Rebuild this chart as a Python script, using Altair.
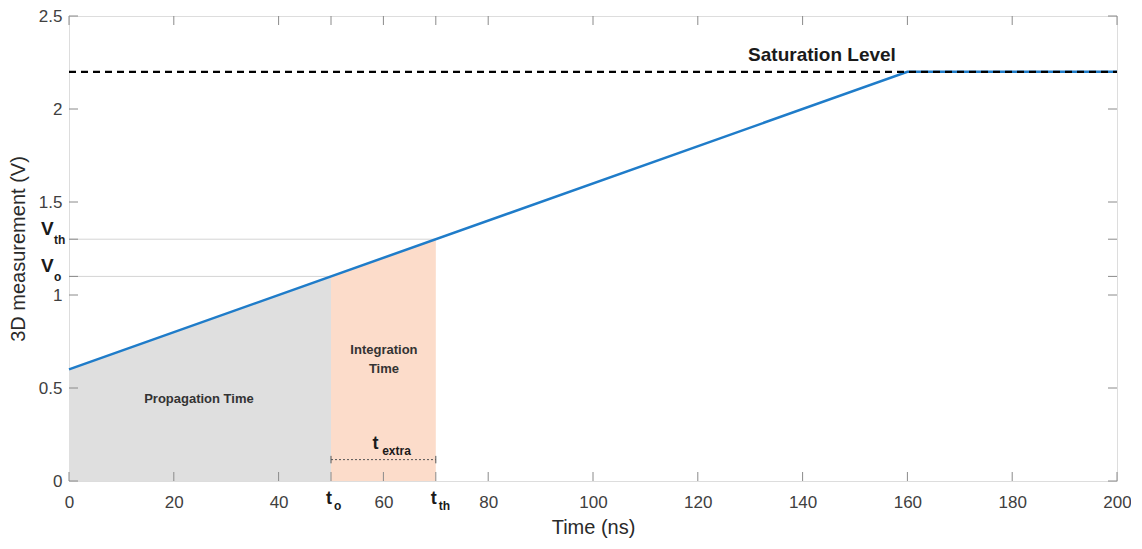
import altair as alt
import pandas as pd

# ---- data ----
line_time = [0, 160, 200]
line_volt = [0.6, 2.2, 2.2]
prop_time = [0, 50]
prop_volt = [0.6, 1.1]
integ_time = [50, 70]
integ_volt = [1.1, 1.3]
saturation = 2.2
t_o, t_th = 50, 70
v_o, v_th = 1.1, 1.3
x_tick_vals = [0, 20, 40, 50, 60, 70, 80, 100, 120, 140, 160, 180, 200]
x_label_vals = [0, 20, 40, 60, 80, 100, 120, 140, 160, 180, 200]
y_tick_vals = [0, 0.5, 1, 1.1, 1.3, 1.5, 2, 2.5]
y_label_vals = [0, 0.5, 1, 1.5, 2, 2.5]

W, H = 1048, 465
FONT = "Liberation Sans"
DARK = "#1a1a1a"

xs = alt.Scale(domain=[0, 200], nice=False, zero=False)
ys = alt.Scale(domain=[0, 2.5], nice=False)

XAXIS = alt.Axis(values=x_label_vals, format="d", tickSize=0, domain=False, grid=False,
                 labelFlush=False, labelFontSize=17, labelColor="#404040", labelPadding=13,
                 titleFontSize=20, titleFontWeight="normal", titleColor="#2a2a2a",
                 titlePadding=7, labelFont=FONT, titleFont=FONT)
YAXIS = alt.Axis(values=y_label_vals, format="~r", tickSize=0, domain=False, grid=False,
                 labelFlush=False, labelFontSize=17, labelColor="#404040", labelPadding=7,
                 titleFontSize=20, titleFontWeight="normal", titleColor="#2a2a2a",
                 titlePadding=10, labelFont=FONT, titleFont=FONT)


def X(field):
    return alt.X(field, type="quantitative", scale=xs, axis=XAXIS, title="Time (ns)")


def Y(field):
    return alt.Y(field, type="quantitative", scale=ys, axis=YAXIS, title="3D measurement (V)")


df_line = pd.DataFrame({"t": line_time, "v": line_volt})
df_prop = pd.DataFrame({"t": prop_time, "v": prop_volt})
df_integ = pd.DataFrame({"t": integ_time, "v": integ_volt})

prop_area = alt.Chart(df_prop).mark_area(color="#dfdfdf", opacity=1).encode(x=X("t"), y=Y("v"))
integ_area = alt.Chart(df_integ).mark_area(color="#fcdcca", opacity=1).encode(x=X("t"), y=Y("v"))

df_guides = pd.DataFrame({"x0": [0, 0], "x1": [t_o, t_th], "v": [v_o, v_th]})
guides = alt.Chart(df_guides).mark_rule(color="#d4d4d4", strokeWidth=1).encode(
    x=X("x0"), x2="x1:Q", y=Y("v"))

line = alt.Chart(df_line).mark_line(color="#1f7cc9", strokeWidth=2.5).encode(x=X("t"), y=Y("v"))

df_sat = pd.DataFrame({"x0": [0], "x1": [200], "v": [saturation]})
sat = alt.Chart(df_sat).mark_rule(color="black", strokeWidth=2.2, strokeDash=[7, 5]).encode(
    x=X("x0"), x2="x1:Q", y=Y("v"))

# annotations
df_sat_lbl = pd.DataFrame({"x": [143.7], "v": [2.29], "txt": ["Saturation Level"]})
sat_lbl = alt.Chart(df_sat_lbl).mark_text(font=FONT, fontSize=19, fontWeight="bold", color=DARK).encode(
    x=X("x"), y=Y("v"), text="txt:N")

df_region_lbl = pd.DataFrame({"x": [24.8, 60.1, 60.1], "v": [0.44, 0.705, 0.60],
                              "txt": ["Propagation Time", "Integration", "Time"]})
region_lbl = alt.Chart(df_region_lbl).mark_text(font=FONT, fontSize=13, fontWeight="bold", color="#333333").encode(
    x=X("x"), y=Y("v"), text="txt:N")

# t_extra bracket
df_br = pd.DataFrame({"x0": [t_o], "x1": [t_th], "v": [0.115]})
bracket = alt.Chart(df_br).mark_rule(color="#555555", strokeWidth=1, strokeDash=[2, 2]).encode(
    x=X("x0"), x2="x1:Q", y=Y("v"))
df_caps = pd.DataFrame({"x": [t_o, t_th], "v0": [0.095, 0.095], "v1": [0.135, 0.135]})
caps = alt.Chart(df_caps).mark_rule(color="#555555", strokeWidth=1).encode(
    x=X("x"), y=Y("v0"), y2="v1:Q")
df_tx = pd.DataFrame({"x": [58.5], "v": [0.199], "txt": ["t"]})
tx_main = alt.Chart(df_tx).mark_text(font=FONT, fontSize=18, fontWeight="bold", color=DARK).encode(
    x=X("x"), y=Y("v"), text="txt:N")
df_tx_sub = pd.DataFrame({"x": [62.5], "v": [0.159], "txt": ["extra"]})
tx_sub = alt.Chart(df_tx_sub).mark_text(font=FONT, fontSize=12, fontWeight="bold", color=DARK).encode(
    x=X("x"), y=Y("v"), text="txt:N")

# custom tick labels t_o, t_th
df_xc = pd.DataFrame({"x": [t_o, t_th], "main": ["t", "t"], "sub": ["o", "th"]})
xc_main = alt.Chart(df_xc).mark_text(font=FONT, fontSize=18, fontWeight="bold", color=DARK,
                                     align="right", dx=1, dy=18).encode(
    x=X("x"), y=alt.value(H), text="main:N")
xc_sub = alt.Chart(df_xc).mark_text(font=FONT, fontSize=12, fontWeight="bold", color=DARK,
                                    align="left", dx=3, dy=25).encode(
    x=X("x"), y=alt.value(H), text="sub:N")

# custom tick labels V_o, V_th
df_yc = pd.DataFrame({"v": [v_o, v_th], "main": ["V", "V"], "sub": ["o", "th"]})
yc_main = alt.Chart(df_yc).mark_text(font=FONT, fontSize=19, fontWeight="bold", color=DARK,
                                     align="left", dx=-28, dy=-10).encode(
    x=alt.value(0), y=Y("v"), text="main:N")
yc_sub = alt.Chart(df_yc).mark_text(font=FONT, fontSize=12, fontWeight="bold", color=DARK,
                                    align="left", dx=-15, dy=1).encode(
    x=alt.value(0), y=Y("v"), text="sub:N")

# inward ticks on all four sides
df_xt = pd.DataFrame({"x": x_tick_vals})
df_yt = pd.DataFrame({"v": y_tick_vals})
TICK = "#8a8a8a"
xt_bot = alt.Chart(df_xt).mark_rule(color=TICK, strokeWidth=1).encode(
    x=X("x"), y=alt.value(H), y2=alt.value(H - 9))
xt_top = alt.Chart(df_xt).mark_rule(color=TICK, strokeWidth=1).encode(
    x=X("x"), y=alt.value(0), y2=alt.value(9))
yt_left = alt.Chart(df_yt).mark_rule(color=TICK, strokeWidth=1).encode(
    y=Y("v"), x=alt.value(0), x2=alt.value(9))
yt_right = alt.Chart(df_yt).mark_rule(color=TICK, strokeWidth=1).encode(
    y=Y("v"), x=alt.value(W - 9), x2=alt.value(W))

chart = alt.layer(
    prop_area, integ_area, guides, line, sat, sat_lbl, region_lbl,
    bracket, caps, tx_main, tx_sub,
    xt_bot, xt_top, yt_left, yt_right,
    xc_main, xc_sub, yc_main, yc_sub,
).properties(
    width=W, height=H,
    autosize=alt.AutoSizeParams(type="none"),
    padding={"left": 61, "top": 8, "right": 14, "bottom": 58},
).configure_view(
    stroke="#999999", strokeWidth=2
).configure(background="white")

chart.save("out.html", embed_options={"renderer": "svg", "actions": False})
